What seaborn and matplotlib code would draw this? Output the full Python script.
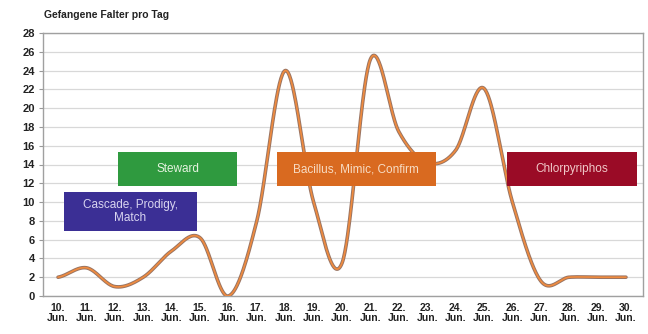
import numpy as np
import pandas as pd
import matplotlib
matplotlib.use("Agg")
import matplotlib.pyplot as plt
import seaborn as sns

# ---- data ----
day_labels = ["10.\nJun.", "11.\nJun.", "12.\nJun.", "13.\nJun.", "14.\nJun.", "15.\nJun.",
              "16.\nJun.", "17.\nJun.", "18.\nJun.", "19.\nJun.", "20.\nJun.", "21.\nJun.",
              "22.\nJun.", "23.\nJun.", "24.\nJun.", "25.\nJun.", "26.\nJun.", "27.\nJun.",
              "28.\nJun.", "29.\nJun.", "30.\nJun."]
moths_per_day = [2, 3, 1, 2, 4.8, 6.2, 0, 8, 24, 10, 3.5, 25.2, 17.5, 14.2, 15.5, 22.1,
                 10, 1.6, 2, 2, 2]
treatment_names = ["Cascade, Prodigy,\nMatch", "Steward", "Bacillus, Mimic, Confirm", "Chlorpyriphos"]
treatment_start_day = [0.21, 2.11, 7.71, 15.8]   # day index where label box starts
treatment_end_day = [4.89, 6.3, 13.3, 20.4]
treatment_low = [6.9, 11.7, 11.7, 11.7]
treatment_high = [11.1, 15.3, 15.3, 15.3]
treatment_colors = ["#3b2f95", "#2f9a3f", "#d96a20", "#9a0b26"]
treatment_text_colors = ["#d8d4f0", "#e6f3e0", "#f7dcc4", "#f0c8c8"]

yticks = list(range(0, 29, 2))

# ---- smooth curve (Excel-like Catmull-Rom rendering of daily values) ----
y = np.asarray(moths_per_day, dtype=float)
n = len(y)
xs, ys = [], []
for i in range(n - 1):
    p0 = y[i - 1] if i > 0 else y[i]
    p3 = y[i + 2] if i + 2 < n else y[i + 1]
    p1, p2 = y[i], y[i + 1]
    m1 = (p2 - p0) / 2.0
    m2 = (p3 - p1) / 2.0
    t = np.linspace(0, 1, 40, endpoint=(i == n - 2))
    h00 = 2 * t**3 - 3 * t**2 + 1
    h10 = t**3 - 2 * t**2 + t
    h01 = -2 * t**3 + 3 * t**2
    h11 = t**3 - t**2
    xs.append(i + t)
    ys.append(h00 * p1 + h10 * m1 + h01 * p2 + h11 * m2)
curve = pd.DataFrame({"day": np.concatenate(xs), "moths": np.concatenate(ys)})

# ---- figure ----
sns.set_style("white")
plt.rcParams["font.family"] = ["Liberation Sans", "DejaVu Sans"]

fig = plt.figure(figsize=(6.48, 3.34), dpi=100)
ax = fig.add_axes([43 / 648, 1 - 296 / 334, 600 / 648, 263 / 334])

for yt in yticks:
    ax.axhline(yt, color="#d8d8d8", lw=0.9, zorder=0)

sns.lineplot(data=curve, x="day", y="moths", ax=ax, color="#9a7462", lw=2.6,
             sort=False, zorder=2)
sns.lineplot(data=curve, x="day", y="moths", ax=ax, color="#f08b3e", lw=1.2,
             sort=False, zorder=3)

for name, x0, x1, lo, hi, c, tc in zip(treatment_names, treatment_start_day, treatment_end_day,
                                        treatment_low, treatment_high, treatment_colors,
                                        treatment_text_colors):
    ax.add_patch(plt.Rectangle((x0, lo), x1 - x0, hi - lo, facecolor=c, edgecolor="none",
                               zorder=4))
    ax.text((x0 + x1) / 2, (lo + hi) / 2, name, ha="center", va="center", color=tc,
            fontsize=8.5, zorder=5, linespacing=1.15)

ax.set_xlim(-0.53, 20.6)
ax.set_ylim(0, 28)
ax.set_yticks(yticks)
ax.set_yticklabels([str(v) for v in yticks], fontsize=8, fontweight="bold", color="#222222")
ax.set_xticks(range(n))
ax.set_xticklabels(day_labels, fontsize=7.5, fontweight="bold", color="#222222",
                   linespacing=1.0)
ax.tick_params(axis="y", length=3, width=0.8, color="#999999", pad=3, left=True)
ax.tick_params(axis="x", length=0, pad=5, bottom=True)
ax.set_xlabel("")
ax.set_ylabel("")
for s in ax.spines.values():
    s.set_color("#a0a0a0")
    s.set_linewidth(1.0)

fig.text(44 / 648, 1 - 15 / 334, "Gefangene Falter pro Tag", fontsize=7.5,
         fontweight="bold", color="#222222", ha="left", va="center")

fig.savefig("out.png", dpi=100, facecolor="white")
